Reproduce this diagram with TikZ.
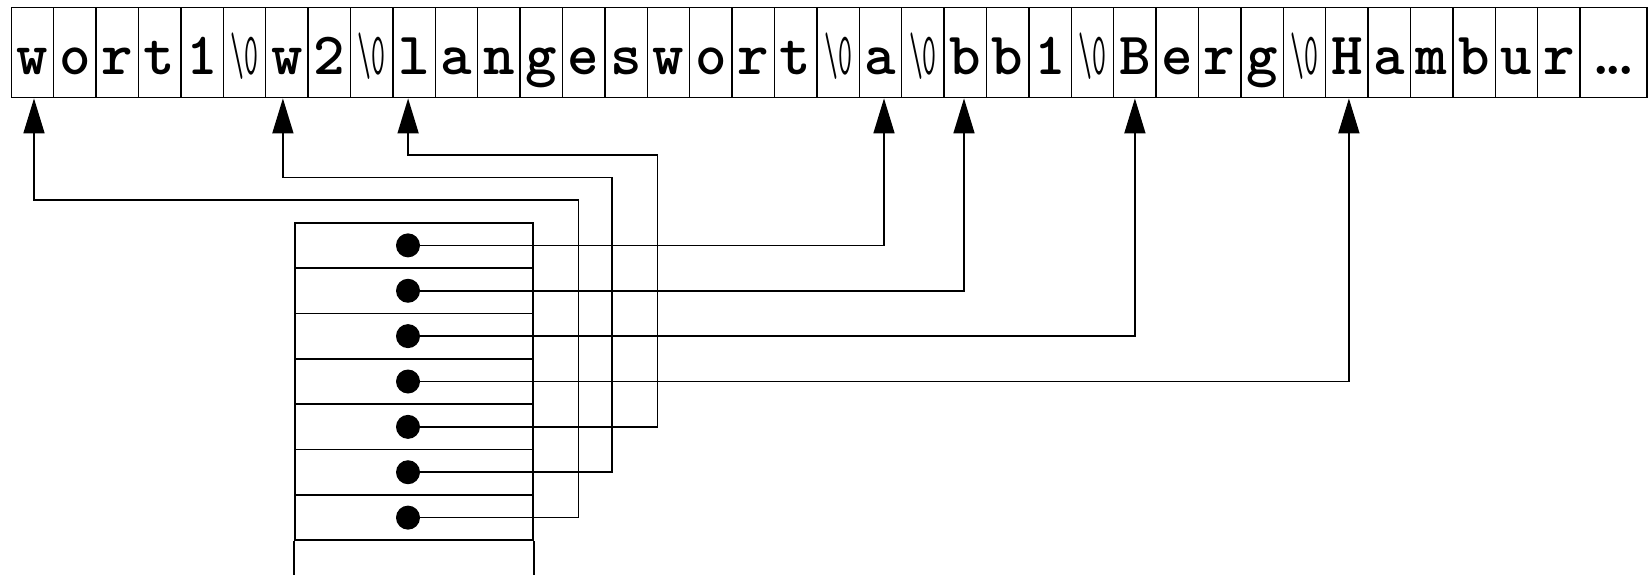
\documentclass[tikz,border=0pt]{standalone}
\usepackage{fontspec}
\usepackage{graphicx}
\usetikzlibrary{arrows.meta}
\DeclareRobustCommand\zchar{{\mdseries\scalebox{0.45}[1]{\textbackslash 0}}}
\tikzset{
  cell/.style={draw, line width=0.7pt, minimum width=21.2pt, minimum height=45.2pt,
    inner sep=0pt, text height=22pt, text depth=0pt,
    font=\ttfamily\fontsize{30}{32}\selectfont\bfseries},
  rowbox/.style={draw, line width=0.9pt, minimum width=119pt, minimum height=22.685pt, inner sep=0pt},
  tableline/.style={line width=0.9pt},
  dot/.style={circle, fill=black, minimum size=12pt, inner sep=0pt},
  conn/.style={line width=0.8pt},
  pointer/.style={conn, -{Triangle[length=17.5pt,width=10.5pt]}}
}
\begin{document}
\begin{tikzpicture}[x=0.5pt,y=-0.5pt]
\useasboundingbox (0,0) rectangle (1648,574);
% character array
\foreach \t [count=\i] in {w,o,r,t,1,\zchar,w,2,\zchar,l,a,n,g,e,s,w,o,r,t,\zchar,a,\zchar,b,b,1,\zchar,B,e,r,g,\zchar,H,a,m,b,u,r}{
  \node[cell] (c\i) at ({11.3+42.4*(\i-0.5)},52.5) {\t};
}
\node[cell, minimum width=33.45pt] (c38) at (1613.55,52.5) {\makebox[0pt]{.\kern-0.32em.\kern-0.32em.}};
% pointer table
\foreach \j in {1,...,7}{
  \node[rowbox] (r\j) at (413.7,{222.7+45.37*(\j-0.5)}) {};
}
\draw[tableline] (r7.south west) -- ++(0,34);
\draw[tableline] (r7.south east) -- ++(0,34);
% bends
\coordinate (k5) at (657.3,154.7);
\coordinate (k6) at (612,177.3);
\coordinate (k7) at (578.3,200);
% dots
\foreach \j in {1,...,7}{
  \node[dot] (d\j) at (408,{222.7+45.37*(\j-0.5)}) {};
}
% connectors
\draw[pointer] (d1.center) -| ([xshift=1.75pt]c21.south);
\draw[pointer] (d2.center) -| ([xshift=-0.65pt]c23.south);
\draw[pointer] (d3.center) -| (c27.south);
\draw[pointer] (d4.center) -| ([xshift=1pt]c32.south);
\draw[pointer] (d5.center) -| (k5) -| ([xshift=-3pt]c10.south);
\draw[pointer] (d6.center) -| (k6) -| ([xshift=-2pt]c7.south);
\draw[pointer] (d7.center) -| (k7) -| ([xshift=0.75pt]c1.south);
\end{tikzpicture}
\end{document}
